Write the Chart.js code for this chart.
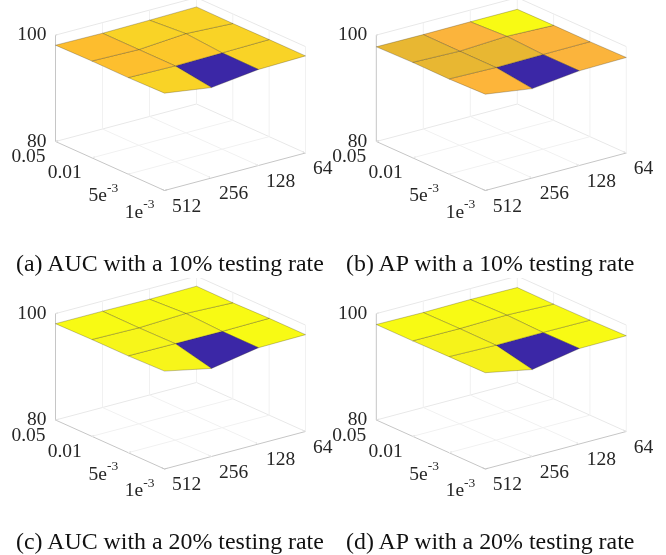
<!DOCTYPE html>
<html>
<head>
<meta charset="utf-8">
<script src="https://cdn.jsdelivr.net/npm/chart.js@4/dist/chart.umd.min.js"></script>
<style>
  html, body { margin: 0; padding: 0; background: #fff; }
  #page { position: relative; width: 666px; height: 555px; overflow: hidden; }
  canvas { position: absolute; }
  .cap { position: absolute; font-family: "Liberation Serif", serif; font-size: 23.9px; color: #111; white-space: nowrap; }
</style>
</head>
<body>
<div id="page"></div>
<script>
// --- data: rows run 0.05 -> 1e-3, columns run 512 -> 64 ---
const rateLabels = ['0.05', '0.01', '5e', '1e'];
const rateExponents = ['', '', '-3', '-3'];
const batchLabels = ['512', '256', '128', '64'];
const zTicks = [80, 100];
const captions = [
    '(a) AUC with a 10% testing rate',
    '(b) AP with a 10% testing rate',
    '(c) AUC with a 20% testing rate',
    '(d) AP with a 20% testing rate'
];

const aucTest10 = [
    [98.10, 98.00, 98.10, 98.25],
    [98.20, 98.00, 98.65, 98.20],
    [98.15, 98.00, 98.10, 98.25],
    [98.30, 97.00, 98.05, 98.25]
];
const apTest10 = [
    [97.80, 97.75, 97.80, 97.80],
    [97.95, 97.70, 98.15, 97.85],
    [97.90, 97.70, 97.80, 97.85],
    [98.10, 96.80, 97.80, 97.95]
];
const aucTest20 = [
    [98.10, 98.10, 98.00, 98.10],
    [98.20, 98.05, 98.40, 98.05],
    [98.20, 98.15, 98.10, 98.20],
    [98.40, 96.55, 98.10, 98.20]
];
const apTest20 = [
    [97.95, 97.85, 97.95, 97.85],
    [97.95, 97.90, 98.10, 97.80],
    [98.05, 97.85, 97.90, 97.85],
    [98.10, 96.35, 97.95, 98.00]
];

// face colours (one per cell)
const BLUE = '#3b27a6';
const YEL = '#f8fa14';
const aucTest10Colors = [
    ['#fdbd2e', '#f9d326', '#f9d326'],
    ['#fdbf2e', '#fcc82a', '#f9d326'],
    ['#f9d326', BLUE, '#f9d326']
];
const apTest10Colors = [
    ['#e8b732', '#fbb43c', YEL],
    ['#e8b732', '#e8b732', '#fbb43c'],
    ['#fdb53a', BLUE, '#fbb43c']
];
const aucTest20Colors = [
    [YEL, YEL, YEL],
    ['#f7f61a', '#f6f31a', YEL],
    ['#f7f51a', BLUE, YEL]
];
const apTest20Colors = [
    [YEL, YEL, YEL],
    ['#f6f31a', '#f5f01c', YEL],
    ['#f6f11c', BLUE, YEL]
];

// --- layout of the four panels ---
const panels = [
    { z: aucTest10, colors: aucTest10Colors, left: 0,   top: 0,   ox: 55.5, oy: 141.5, capX: 16,  capY: 250 },
    { z: apTest10,  colors: apTest10Colors,  left: 320, top: 0,   ox: 56.3, oy: 141.5, capX: 346, capY: 250 },
    { z: aucTest20, colors: aucTest20Colors, left: 0,   top: 278, ox: 55.5, oy: 142,   capX: 16,  capY: 528 },
    { z: apTest20,  colors: apTest20Colors,  left: 320, top: 278, ox: 56.3, oy: 142,   capX: 346, capY: 528 }
];
const CHART_W = 346;
const CHART_H = 277;

// --- orthographic view (px per grid step / per z unit), y is up ---
const STEP_I = { x: 36.33, y: -16.33 };
const STEP_J = { x: 47, y: 12.5 };
const Z_PX = 5.32;
const Z_MIN = 80;
const Z_MAX = 100;

function project(i, j, z) {
    return {
        x: i * STEP_I.x + j * STEP_J.x,
        y: i * STEP_I.y + j * STEP_J.y + (z - Z_MIN) * Z_PX
    };
}

function lineSet(points, color, width) {
    return {
        data: points,
        showLine: true,
        fill: false,
        borderColor: color,
        borderWidth: width,
        pointRadius: 0,
        tension: 0,
        clip: false
    };
}

function cellSet(z, color, i, j) {
    const pts = [
        project(i, j, z[i][j]),
        project(i, j + 1, z[i][j + 1]),
        project(i + 1, j + 1, z[i + 1][j + 1]),
        project(i + 1, j, z[i + 1][j]),
        project(i, j, z[i][j])
    ];
    const ds = lineSet(pts, 'rgba(60,50,30,0.42)', 0.7);
    ds.fill = 'shape';
    ds.backgroundColor = color;
    return ds;
}

// walls, floor grid and axis lines, all under the surface
function frameSets() {
    const GRID = '#f1f1f1';
    const WALL = '#e8e8e8';
    const AXIS = '#c6c6c6';
    const sets = [];
    for (let n = 1; n < 3; n++) {
        sets.push(lineSet([project(n, 0, Z_MIN), project(n, 3, Z_MIN)], GRID, 1));
        sets.push(lineSet([project(0, n, Z_MIN), project(3, n, Z_MIN)], GRID, 1));
    }
    for (let n = 1; n < 4; n++) {
        sets.push(lineSet([project(0, n, Z_MIN), project(0, n, Z_MAX)], GRID, 1));
        sets.push(lineSet([project(n, 3, Z_MIN), project(n, 3, Z_MAX)], GRID, 1));
    }
    sets.push(lineSet([project(0, 0, Z_MAX), project(0, 3, Z_MAX)], WALL, 1));
    sets.push(lineSet([project(0, 3, Z_MAX), project(3, 3, Z_MAX)], WALL, 1));
    sets.push(lineSet([project(0, 0, Z_MIN), project(0, 3, Z_MIN)], WALL, 1));
    sets.push(lineSet([project(0, 3, Z_MIN), project(3, 3, Z_MIN)], WALL, 1));
    // front axes
    sets.push(lineSet([project(0, 0, Z_MIN), project(3, 0, Z_MIN)], AXIS, 1));
    sets.push(lineSet([project(3, 0, Z_MIN), project(3, 3, Z_MIN)], AXIS, 1));
    sets.push(lineSet([project(0, 0, Z_MIN), project(0, 0, Z_MAX)], AXIS, 1));
    // tick marks
    for (let n = 0; n < 4; n++) {
        sets.push(lineSet([project(n, 0, Z_MIN), project(n, 0.06, Z_MIN)], AXIS, 1));
        sets.push(lineSet([project(3, n, Z_MIN), project(2.92, n, Z_MIN)], AXIS, 1));
    }
    zTicks.forEach(t => sets.push(lineSet([project(0, 0, t), project(0, 0.05, t)], AXIS, 1)));
    return sets;
}

// 3D tick labels, placed through the chart's scales
const tickLabelPlugin = {
    id: 'tickLabels',
    afterDatasetsDraw(chart) {
        const { ctx, scales } = chart;
        const px = p => ({ x: scales.x.getPixelForValue(p.x), y: scales.y.getPixelForValue(p.y) });
        const mainFont = '19.5px "Liberation Serif", serif';
        ctx.save();
        ctx.fillStyle = '#262626';
        ctx.font = mainFont;
        ctx.textBaseline = 'middle';

        ctx.textAlign = 'right';
        zTicks.forEach(t => {
            const p = px(project(0, 0, t));
            ctx.fillText(String(t), p.x - 9, p.y);
        });
        rateLabels.forEach((label, i) => {
            const p = px(project(i, 0, Z_MIN));
            const exp = rateExponents[i];
            if (exp) {
                ctx.font = '13.5px "Liberation Serif", serif';
                ctx.fillText(exp, p.x - 10, p.y + 14);
                const w = ctx.measureText(exp).width;
                ctx.font = mainFont;
                ctx.fillText(label, p.x - 10 - w, p.y + 22);
            } else {
                ctx.fillText(label, p.x - 10, p.y + 15.5);
            }
        });

        ctx.textAlign = 'left';
        batchLabels.forEach((label, j) => {
            const p = px(project(3, j, Z_MIN));
            ctx.fillText(label, p.x + 7.5, p.y + 16);
        });
        ctx.restore();
    }
};

function drawPanel(panel) {
    const page = document.getElementById('page');
    const canvas = document.createElement('canvas');
    canvas.width = CHART_W;
    canvas.height = CHART_H;
    canvas.style.left = panel.left + 'px';
    canvas.style.top = panel.top + 'px';
    page.appendChild(canvas);

    const surface = [];
    for (let i = 0; i < 3; i++) {
        for (let j = 0; j < 3; j++) {
            surface.push(cellSet(panel.z, panel.colors[i][j], i, j));
        }
    }

    new Chart(canvas, {
        type: 'scatter',
        // first dataset is painted last, so the surface goes first
        data: { datasets: surface.concat(frameSets()) },
        options: {
            responsive: false,
            animation: false,
            layout: { padding: 0 },
            plugins: { legend: { display: false }, tooltip: { enabled: false } },
            scales: {
                x: { type: 'linear', display: false, min: -panel.ox, max: CHART_W - panel.ox },
                y: { type: 'linear', display: false, min: panel.oy - CHART_H, max: panel.oy }
            }
        },
        plugins: [tickLabelPlugin]
    });

    const cap = document.createElement('div');
    cap.className = 'cap';
    cap.style.left = panel.capX + 'px';
    cap.style.top = panel.capY + 'px';
    cap.textContent = captions[panels.indexOf(panel)];
    page.appendChild(cap);
}

panels.forEach(drawPanel);
</script>
</body>
</html>
